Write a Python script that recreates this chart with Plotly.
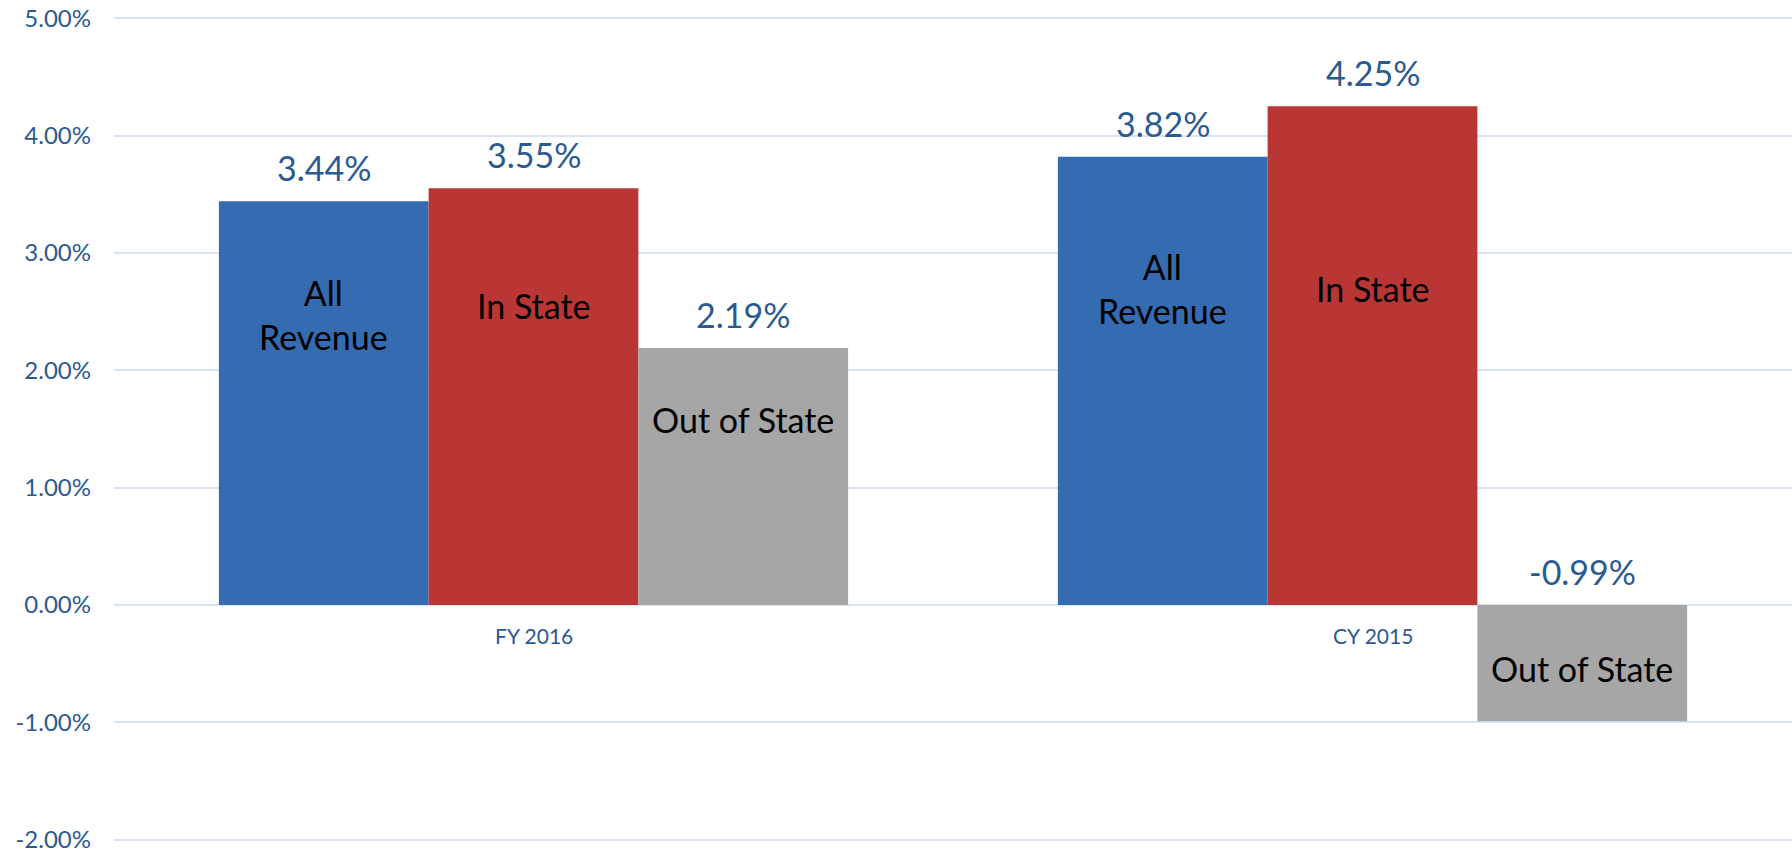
import plotly.graph_objects as go

# data (percent change)
periods = ['FY 2016', 'CY 2015']
series_names = ['All Revenue', 'In State', 'Out of State']
series_labels = ['All<br>Revenue', 'In State', 'Out of State']
all_revenue = [3.44, 3.82]
in_state = [3.55, 4.25]
out_of_state = [2.19, -0.99]
y_ticks = [-2, -1, 0, 1, 2, 3, 4, 5]

values = [all_revenue, in_state, out_of_state]
bar_colors = ['#356BB1', '#B93634', '#A6A6A6']
text_blue = '#2B5A90'
grid_blue = '#D9E4F3'
font_family = 'Lato, "Open Sans", sans-serif'

fig = go.Figure()

# grouped bars, one trace per series
for name, vals, color in zip(series_names, values, bar_colors):
    fig.add_trace(go.Bar(x=periods, y=vals, name=name,
                         marker=dict(color=color, line=dict(width=0)),
                         hoverinfo='x+y+name'))

# annotations: value labels above bars, series names inside bars
bar_width = 0.25
annotations = []
for k, (label, vals) in enumerate(zip(series_labels, values)):
    offset = (k - 1) * bar_width
    for i, v in enumerate(vals):
        xpos = i + offset
        annotations.append(dict(x=xpos, y=max(v, 0), xref='x', yref='y',
                                text='%.2f%%' % v, showarrow=False,
                                yanchor='bottom', yshift=11,
                                font=dict(size=34, color=text_blue, family=font_family)))
        # series name sits in the upper part of the bar (middle for the negative one)
        name_y = min(v * 0.72, 2.7) if v > 0 else v * 0.55
        annotations.append(dict(x=xpos, y=name_y, xref='x', yref='y',
                                text=label, showarrow=False, yanchor='middle',
                                font=dict(size=34, color='black', family=font_family)))

# category labels sit just under the zero line
for i, p in enumerate(periods):
    annotations.append(dict(x=i, y=0, xref='x', yref='y', text=p, showarrow=False,
                            yanchor='top', yshift=-16,
                            font=dict(size=21, color=text_blue, family=font_family)))

fig.update_layout(
    width=1792, height=853,
    margin=dict(l=114, r=0, t=17, b=12),
    paper_bgcolor='white', plot_bgcolor='white',
    barmode='group', bargap=0.25, bargroupgap=0,
    showlegend=False,
    annotations=annotations,
    font=dict(family=font_family),
)
fig.update_xaxes(showticklabels=False, showgrid=False, zeroline=False,
                 showline=False, range=[-0.5, 1.5])
# range padded a hair so the end gridlines at -2% and 5% are kept
fig.update_yaxes(range=[-2.01, 5.01], tickvals=y_ticks,
                 ticktext=['%.2f%%' % t for t in y_ticks],
                 showgrid=True, gridcolor=grid_blue, gridwidth=2,
                 zeroline=True, zerolinecolor=grid_blue, zerolinewidth=2,
                 showline=False, ticks='', ticklabelstandoff=22, automargin=False,
                 ticklabeloverflow='allow',
                 tickfont=dict(size=24, color=text_blue, family=font_family))

# drop the default 8px page margin so the figure fills the window exactly
fig.write_html("out.html", config={'displayModeBar': False},
               post_script="document.body.style.margin = '0';")
